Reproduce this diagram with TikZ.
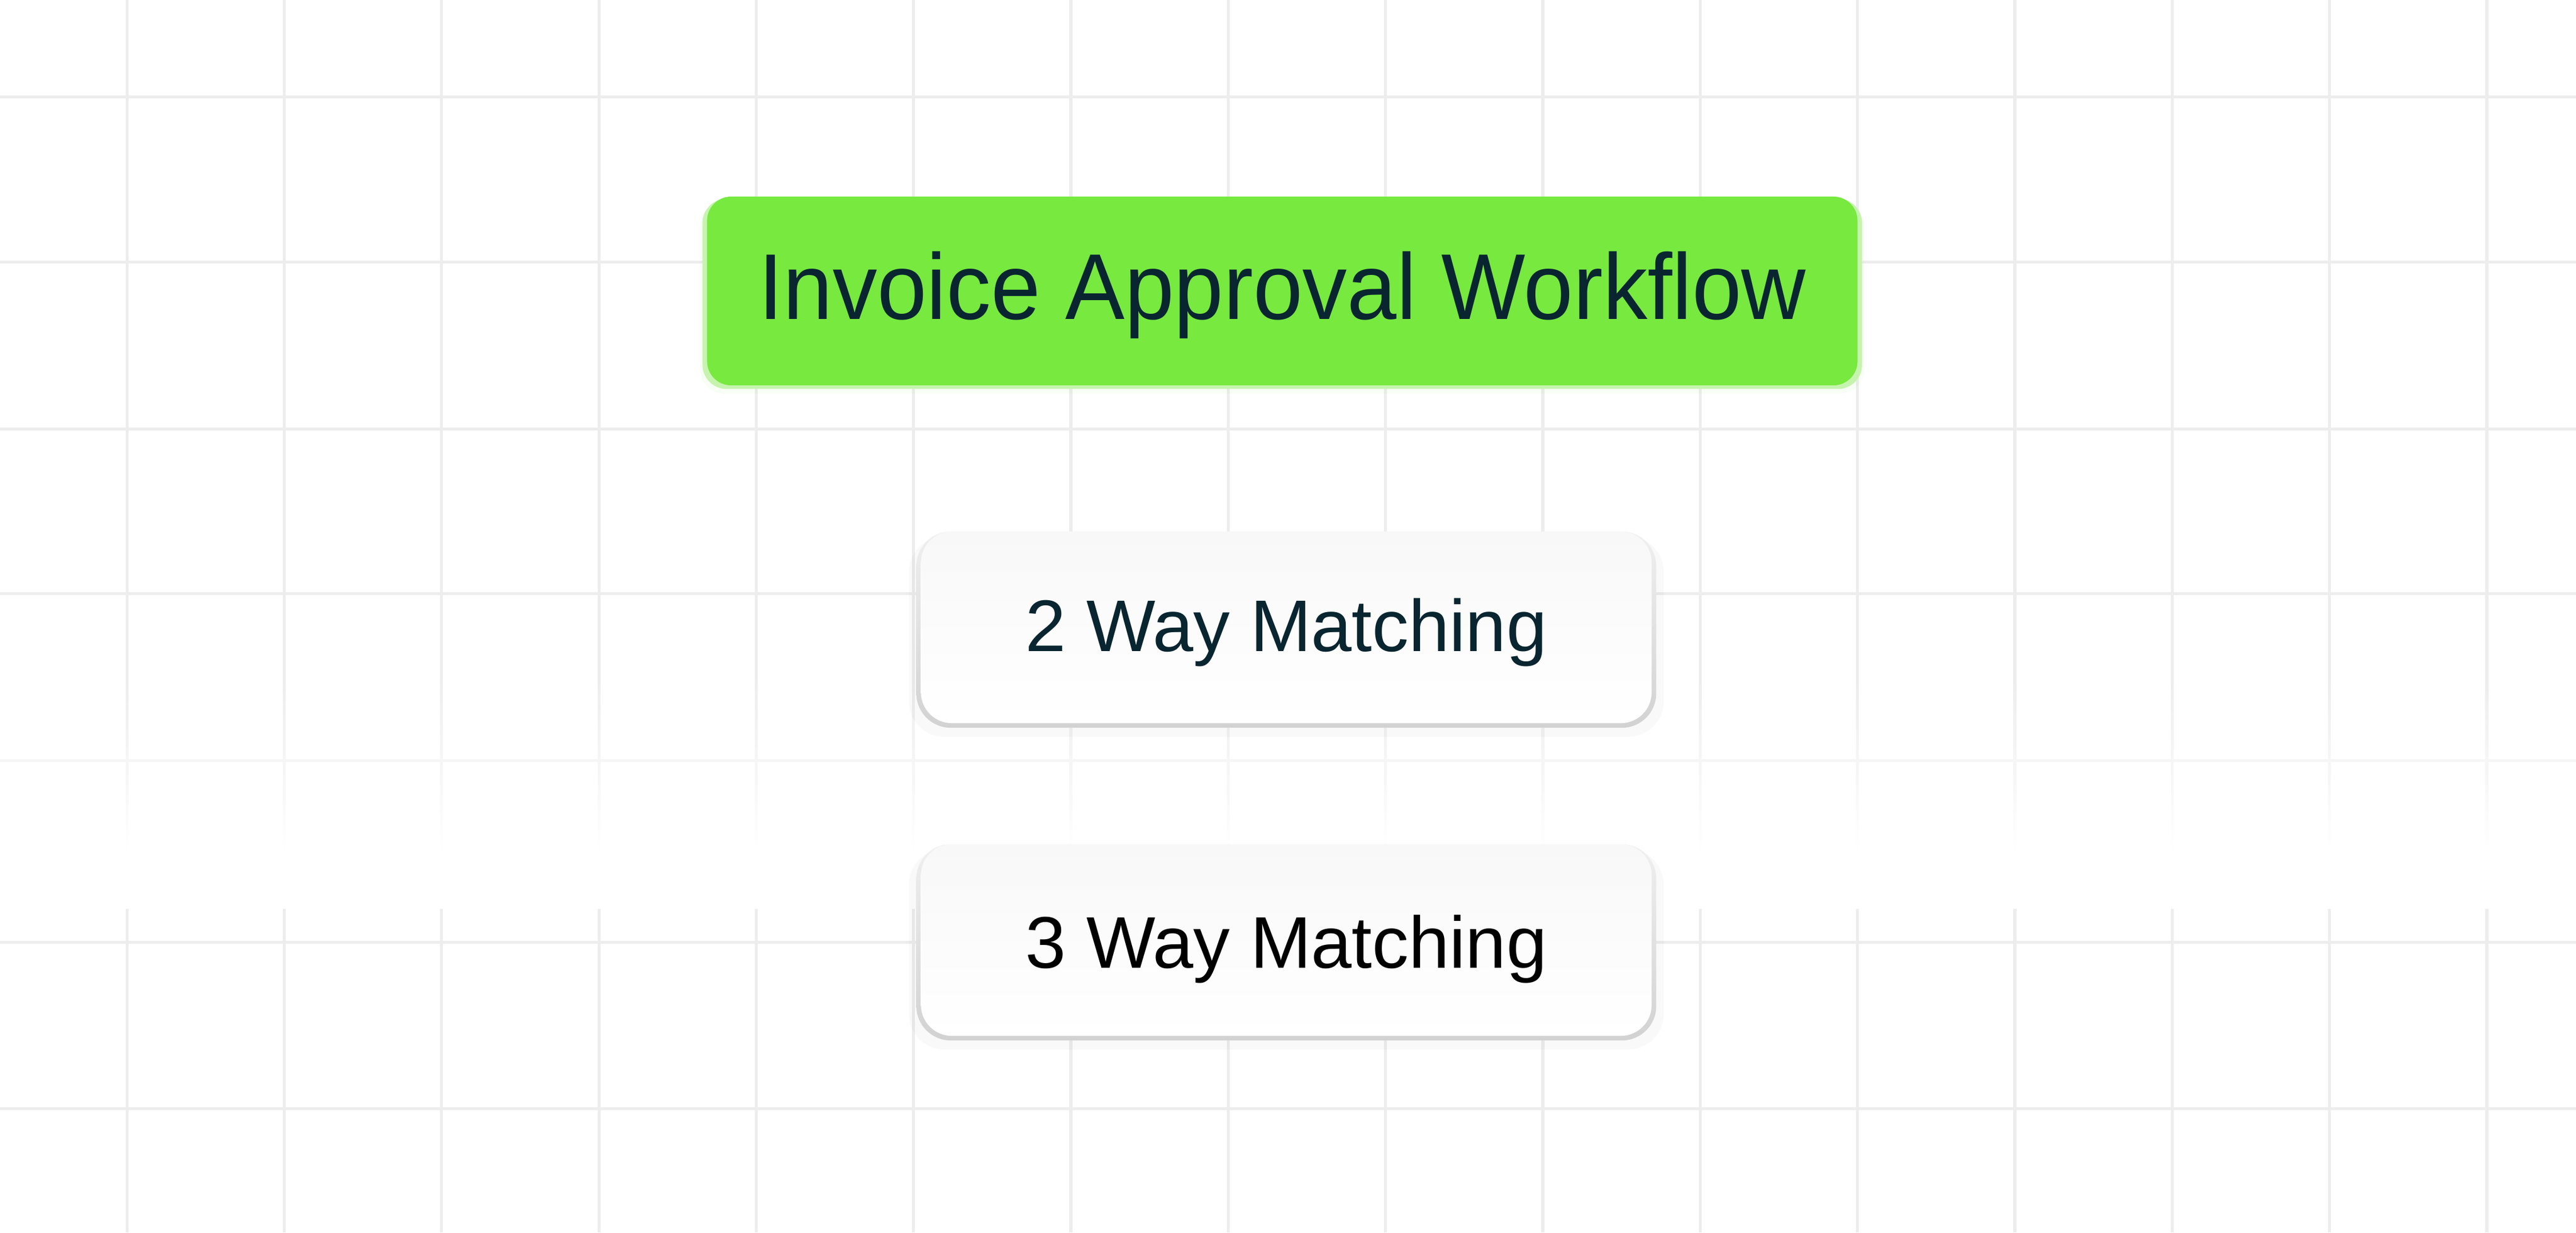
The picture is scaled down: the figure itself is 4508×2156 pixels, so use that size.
\documentclass[tikz,border=0pt]{standalone}
\usepackage{fontspec}
\setmainfont{Liberation Sans}
\usepackage{graphicx}
\usepackage{tikz}
\usetikzlibrary{shadows}
\definecolor{gridgray}{HTML}{EDEDED}
\definecolor{titlegreen}{HTML}{77E93F}
\definecolor{titleedge}{HTML}{C6F4AE}
\definecolor{inkblue}{HTML}{082530}
\definecolor{edgetop}{HTML}{F0F0F0}
\definecolor{edgebottom}{HTML}{D2D2D2}
\definecolor{boxtop}{HTML}{F8F8F8}
\tikzset{%
  grid line/.style={
    draw=gridgray,
    line width=0.05cm
  },
  title box/.style={
    rounded corners=0.42cm,
    fill=titlegreen,
    text=inkblue,
    minimum width=20.12cm,
    minimum height=3.30cm,
    text height=1.19cm,
    text depth=0.2cm,
    font=\fontsize{46.5}{56}\selectfont,
    general shadow={fill=titlegreen, opacity=0.05, shadow scale=1.012, shadow yshift=-0.12cm},
    general shadow={fill=titleedge, shadow scale=1.008, shadow yshift=-0.05cm}
  },
  match frame/.style={
    rounded corners=0.6cm,
    top color=edgetop,
    bottom color=edgebottom,
    minimum width=12.94cm,
    minimum height=3.43cm,
    general shadow={fill=black, opacity=0.025, shadow scale=1.02, shadow yshift=-0.12cm}
  },
  match box/.style={
    rounded corners=0.54cm,
    top color=boxtop,
    bottom color=white,
    minimum width=12.78cm,
    minimum height=3.35cm,
    text height=1.0cm,
    text depth=0.17cm,
    font=\fontsize{36.4}{44}\selectfont
  },
}

\begin{document}
\begin{tikzpicture}[x=0.01cm, y=-0.01cm]
\useasboundingbox (0,0) rectangle (4508,2156);
\fill[white] (0,0) rectangle (4508,2156);

% background grid
\foreach \x in {0,...,15}
    \draw[grid line] ({222+275.33*\x},0) -- ({222+275.33*\x},2156);
\foreach \y in {169,458,750,1038,1330,1648,1939}
    \draw[grid line] (0,\y) -- (4508,\y);

% white band where the grid fades out
\foreach \i in {0,...,19}
    \fill[white, opacity={(\i+1)/20}] (0,{1180+16*\i}) rectangle (4508,{1196+16*\i});
\fill[white] (0,1500) rectangle (4508,1590);

\node[title box] (workflow) at (2244,509) {\scalebox{0.953}[1]{Invoice Approval Workflow}};

\node[match frame] (twoway frame) at (2251,1101.5) {};
\node[match box, text=inkblue] (twoway) at (2251,1097.5) {2 Way Matching};

\node[match frame] (threeway frame) at (2251,1648.5) {};
\node[match box, text=black, text height=1.14cm] (threeway) at (2251,1644.5) {3 Way Matching};
\end{tikzpicture}
\end{document}
